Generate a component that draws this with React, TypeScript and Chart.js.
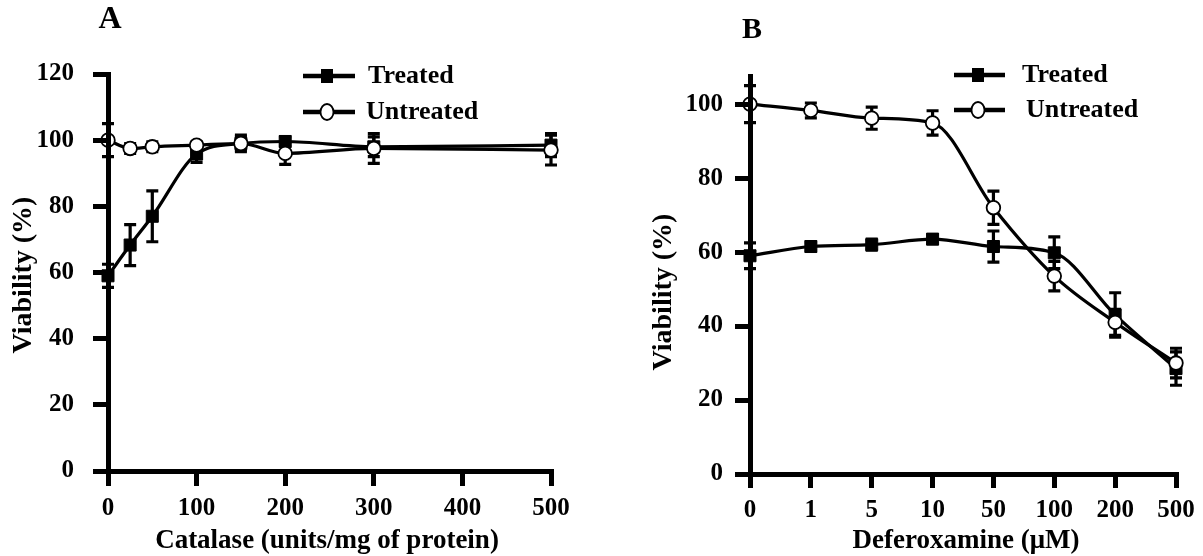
import React, { useEffect, useRef } from 'react';
import { Chart, registerables } from 'chart.js';

Chart.register(...registerables);

const FONT = "'Liberation Serif', 'Times New Roman', serif";

// ---------- Panel A : Catalase ----------
const catalaseDoses = [0, 25, 50, 100, 150, 200, 300, 500];
const catalaseTreated = [59, 68.3, 77, 95.8, 99, 99.6, 98, 98.5];
const catalaseTreatedErr = [3.5, 6.2, 7.7, 2.5, 2.5, 1.5, 3, 3.5];
const catalaseUntreated = [100, 97.5, 98, 98.5, 99, 96, 97.5, 97];
const catalaseUntreatedErr = [5, 1.5, 1.5, 1, 2, 3.3, 4.5, 4.5];
const catalaseXTicks = [0, 100, 200, 300, 400, 500];
const catalaseYTicks = [0, 20, 40, 60, 80, 100, 120];

// ---------- Panel B : Deferoxamine ----------
const dfoDoses = ['0', '1', '5', '10', '50', '100', '200', '500'];
const dfoTreated = [59, 61.5, 62, 63.5, 61.5, 59.8, 43, 28.5];
const dfoTreatedErr = [3.5, 1.2, 1.5, 1.2, 4.2, 4.3, 6, 4.5];
const dfoUntreated = [100, 98.3, 96.2, 94.9, 72, 53.5, 41, 30];
const dfoUntreatedErr = [5, 2, 3, 3.3, 4.5, 4, 3.5, 4];
const dfoYTicks = [0, 20, 40, 60, 80, 100];

const seriesNames = ['Treated', 'Untreated'];

const errorBarPlugin = {
  id: 'errorBars',
  beforeDatasetsDraw(chart: any, _args: any, opts: any) {
    const errs: number[][] = opts.errors || [];
    const { ctx } = chart;
    const yScale = chart.scales.y;
    ctx.save();
    ctx.strokeStyle = '#000';
    ctx.lineWidth = 3.2;
    chart.data.datasets.forEach((ds: any, i: number) => {
      const e = errs[i];
      if (!e) return;
      const meta = chart.getDatasetMeta(i);
      meta.data.forEach((pt: any, j: number) => {
        const raw = ds.data[j];
        const v = typeof raw === 'number' ? raw : raw.y;
        const top = yScale.getPixelForValue(v + e[j]);
        const bot = yScale.getPixelForValue(v - e[j]);
        const x = pt.x;
        const cw = 6;
        ctx.beginPath();
        ctx.moveTo(x, top);
        ctx.lineTo(x, bot);
        ctx.moveTo(x - cw, top);
        ctx.lineTo(x + cw, top);
        ctx.moveTo(x - cw, bot);
        ctx.lineTo(x + cw, bot);
        ctx.stroke();
      });
    });
    ctx.restore();
  },
};

function drawMarker(ctx: CanvasRenderingContext2D, kind: string, x: number, y: number) {
  ctx.save();
  if (kind === 'square') {
    ctx.fillStyle = '#000';
    ctx.fillRect(x - 6, y - 7, 12, 14);
  } else {
    ctx.beginPath();
    ctx.ellipse(x, y, 6.5, 8, 0, 0, Math.PI * 2);
    ctx.fillStyle = '#fff';
    ctx.fill();
    ctx.lineWidth = 1.8;
    ctx.strokeStyle = '#000';
    ctx.stroke();
  }
  ctx.restore();
}

const decorPlugin = {
  id: 'decor',
  afterDraw(chart: any, _args: any, o: any) {
    const { ctx } = chart;
    ctx.save();
    ctx.fillStyle = '#000';
    // panel letter
    ctx.font = `bold ${o.letter.size}px ${FONT}`;
    ctx.textAlign = 'center';
    ctx.textBaseline = 'middle';
    ctx.fillText(o.letter.text, o.letter.x, o.letter.y);
    // axis titles
    ctx.font = `bold 27px ${FONT}`;
    ctx.fillText(o.xTitle.text, o.xTitle.x, o.xTitle.y);
    ctx.save();
    ctx.translate(o.yTitle.x, o.yTitle.y);
    ctx.rotate(-Math.PI / 2);
    ctx.font = `bold 28px ${FONT}`;
    ctx.fillText(o.yTitle.text, 0, 0);
    ctx.restore();
    // legend
    const lg = o.legend;
    lg.rows.forEach((r: any) => {
      ctx.save();
      ctx.strokeStyle = '#000';
      ctx.lineWidth = 4.5;
      ctx.beginPath();
      ctx.moveTo(lg.x0, r.y);
      ctx.lineTo(lg.x1, r.y);
      ctx.stroke();
      ctx.restore();
      drawMarker(ctx, r.marker, lg.mx, r.y);
      ctx.font = `bold 26px ${FONT}`;
      ctx.textAlign = 'left';
      ctx.textBaseline = 'middle';
      ctx.fillText(r.label, r.textX, r.y);
    });
    ctx.restore();
  },
};

const tickFont = { family: FONT, size: 25, weight: 'bold' as const };

function axisCommon(tickLength: number, padding: number, onTop: boolean) {
  return {
    grid: {
      display: true,
      drawOnChartArea: false,
      drawTicks: true,
      tickLength,
      color: '#000',
      lineWidth: 5,
      offset: false,
      z: onTop ? 1 : -1,
    },
    border: { display: true, color: '#000', width: 5, z: onTop ? 1 : 0 },
    ticks: { color: '#000', font: tickFont, padding, autoSkip: false, maxRotation: 0 },
    title: { display: false },
  };
}

const treatedStyle = {
  borderColor: '#000',
  borderWidth: 3.2,
  pointStyle: 'rect',
  pointRadius: 8.5,
  pointBackgroundColor: '#000',
  pointBorderColor: '#000',
  pointBorderWidth: 1,
  cubicInterpolationMode: 'monotone' as const,
  fill: false,
  clip: false as const,
  order: 2,
};

const untreatedStyle = {
  borderColor: '#000',
  borderWidth: 3.2,
  pointStyle: 'circle',
  pointRadius: 6.8,
  pointBackgroundColor: '#fff',
  pointBorderColor: '#000',
  pointBorderWidth: 1.8,
  cubicInterpolationMode: 'monotone' as const,
  fill: false,
  clip: false as const,
  order: 1,
};

function buildA(canvas: HTMLCanvasElement) {
  return new Chart(canvas, {
    type: 'line',
    data: {
      datasets: [
        {
          label: seriesNames[0],
          data: catalaseDoses.map((x, i) => ({ x, y: catalaseTreated[i] })),
          ...treatedStyle,
        } as any,
        {
          label: seriesNames[1],
          data: catalaseDoses.map((x, i) => ({ x, y: catalaseUntreated[i] })),
          ...untreatedStyle,
        } as any,
      ],
    },
    options: {
      responsive: false,
      animation: false,
      events: [],
      layout: { padding: { top: 74, right: 49, left: 0, bottom: 0 } },
      plugins: {
        legend: { display: false },
        tooltip: { enabled: false },
        errorBars: { errors: [catalaseTreatedErr, catalaseUntreatedErr] },
        decor: {
          letter: { text: 'A', x: 110, y: 20, size: 32 },
          xTitle: { text: 'Catalase (units/mg of protein)', x: 327, y: 541 },
          yTitle: { text: 'Viability (%)', x: 24, y: 275 },
          legend: {
            x0: 303,
            x1: 355,
            mx: 327,
            rows: [
              { y: 76, label: seriesNames[0], marker: 'square', textX: 368 },
              { y: 112, label: seriesNames[1], marker: 'circle', textX: 366 },
            ],
          },
        },
      } as any,
      scales: {
        x: {
          type: 'linear',
          min: 0,
          max: 500,
          afterBuildTicks: (s: any) => {
            s.ticks = catalaseXTicks.map((v) => ({ value: v }));
          },
          afterFit: (s: any) => {
            s.height = 85;
          },
          ...axisCommon(15, 8, false),
        } as any,
        y: {
          type: 'linear',
          min: 0,
          max: 120,
          afterBuildTicks: (s: any) => {
            s.ticks = catalaseYTicks.map((v) => ({ value: v }));
          },
          afterFit: (s: any) => {
            s.width = 108;
          },
          ...axisCommon(15, 19, true),
        } as any,
      },
    },
    plugins: [errorBarPlugin, decorPlugin],
  });
}

function buildB(canvas: HTMLCanvasElement) {
  return new Chart(canvas, {
    type: 'line',
    data: {
      labels: dfoDoses,
      datasets: [
        { label: seriesNames[0], data: dfoTreated, ...treatedStyle } as any,
        { label: seriesNames[1], data: dfoUntreated, ...untreatedStyle } as any,
      ],
    },
    options: {
      responsive: false,
      animation: false,
      events: [],
      layout: { padding: { top: 76, right: 27, left: 0, bottom: 0 } },
      plugins: {
        legend: { display: false },
        tooltip: { enabled: false },
        errorBars: { errors: [dfoTreatedErr, dfoUntreatedErr] },
        decor: {
          letter: { text: 'B', x: 152, y: 30, size: 30 },
          xTitle: { text: 'Deferoxamine (\u03bcM)', x: 366, y: 541 },
          yTitle: { text: 'Viability (%)', x: 64, y: 292 },
          legend: {
            x0: 354,
            x1: 405,
            mx: 378,
            rows: [
              { y: 75, label: seriesNames[0], marker: 'square', textX: 422 },
              { y: 110, label: seriesNames[1], marker: 'circle', textX: 426 },
            ],
          },
        },
      } as any,
      scales: {
        x: {
          type: 'category',
          offset: false,
          afterFit: (s: any) => {
            s.height = 82;
          },
          ...axisCommon(14, 8, false),
        } as any,
        y: {
          type: 'linear',
          min: 0,
          max: 107.6,
          afterBuildTicks: (s: any) => {
            s.ticks = dfoYTicks.map((v) => ({ value: v }));
          },
          afterFit: (s: any) => {
            s.width = 150;
          },
          ...axisCommon(15, 12, true),
        } as any,
      },
    },
    plugins: [errorBarPlugin, decorPlugin],
  });
}

export default function App() {
  const refA = useRef<HTMLCanvasElement>(null);
  const refB = useRef<HTMLCanvasElement>(null);

  useEffect(() => {
    const a = buildA(refA.current!);
    const b = buildB(refB.current!);
    return () => {
      a.destroy();
      b.destroy();
    };
  }, []);

  return (
    <div
      style={{
        position: 'fixed',
        left: 0,
        top: 0,
        width: 1203,
        height: 556,
        background: '#fff',
        display: 'flex',
      }}
    >
      <canvas ref={refA} width={600} height={556} style={{ display: 'block', width: 600, height: 556 }} />
      <canvas ref={refB} width={603} height={556} style={{ display: 'block', width: 603, height: 556 }} />
    </div>
  );
}
